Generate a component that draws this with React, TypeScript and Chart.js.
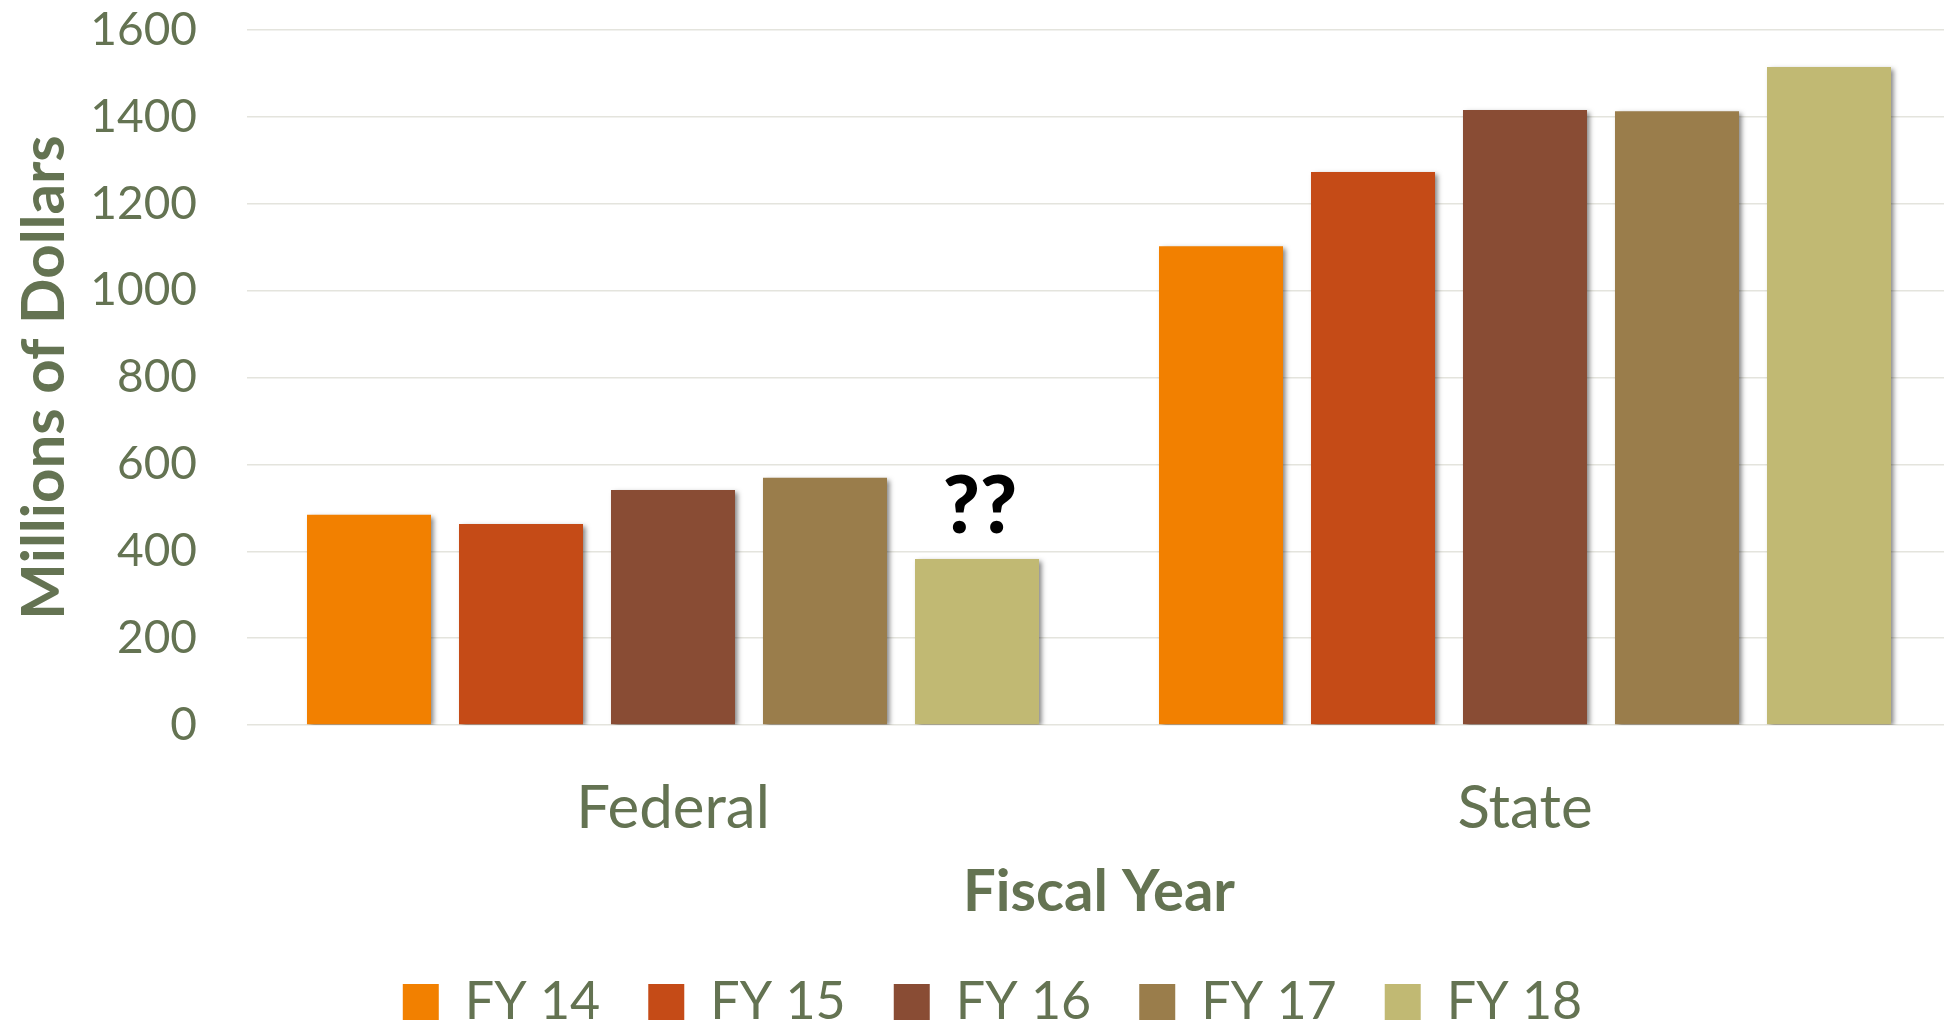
import React, { useEffect, useRef } from "react";
import { Chart, registerables } from "chart.js";

Chart.register(...registerables);

// ---- data ----
const categories = ["Federal", "State"];
const seriesLabels = ["FY 14", "FY 15", "FY 16", "FY 17", "FY 18"];
const fy14 = [484, 1102];
const fy15 = [463, 1273];
const fy16 = [541, 1416];
const fy17 = [569, 1413];
const fy18 = [382, 1515];
const seriesValues = [fy14, fy15, fy16, fy17, fy18];
const seriesColors = ["#F28000", "#C54B17", "#894C34", "#9A7D4B", "#C1B973"];
const yMin = 0;
const yMax = 1600;
const yStep = 200;
const yAxisTitle = "Millions of Dollars";
const xAxisTitle = "Fiscal Year";
const unknownMark = "??";
const unknownSeries = 4; // FY 18
const unknownCategory = 0; // Federal

const TEXT = "#647352";
const FONT = "Lato";

const barDecor = {
  id: "barDecor",
  beforeDatasetsDraw(chart: any) {
    const ctx = chart.ctx;
    ctx.save();
    ctx.shadowColor = "rgba(0,0,0,0.5)";
    ctx.shadowBlur = 5;
    ctx.shadowOffsetX = 3;
    ctx.shadowOffsetY = 2;
  },
  afterDatasetsDraw(chart: any) {
    const ctx = chart.ctx;
    ctx.restore();
    const meta = chart.getDatasetMeta(unknownSeries);
    const el = meta && meta.data[unknownCategory];
    if (!el) return;
    ctx.save();
    ctx.font = `900 80px ${FONT}`;
    ctx.fillStyle = "#000000";
    ctx.textAlign = "center";
    ctx.textBaseline = "alphabetic";
    ctx.fillText(unknownMark, el.x + 3, el.y - 26);
    ctx.restore();
  },
};

export default function App() {
  const ref = useRef<HTMLCanvasElement | null>(null);

  useEffect(() => {
    if (!ref.current) return;
    const chart = new Chart(ref.current, {
      type: "bar",
      data: {
        labels: categories,
        datasets: seriesLabels.map((label, i) => ({
          label,
          data: seriesValues[i],
          backgroundColor: seriesColors[i],
          borderWidth: 0,
          categoryPercentage: 0.892,
          barPercentage: 0.816,
        })),
      },
      options: {
        animation: false,
        responsive: false,
        maintainAspectRatio: false,
        devicePixelRatio: 1,
        layout: { padding: { left: 34, right: 9, top: 30, bottom: 2 } },
        plugins: {
          tooltip: { enabled: false },
          legend: {
            position: "bottom",
            labels: {
              boxWidth: 36,
              boxHeight: 36,
              padding: 48,
              color: TEXT,
              font: { family: FONT, size: 52 },
            },
          },
        },
        scales: {
          x: {
            type: "category",
            offset: true,
            grid: { display: false },
            border: { display: false },
            ticks: {
              color: TEXT,
              font: { family: FONT, size: 60 },
              padding: 40,
              maxRotation: 0,
              autoSkip: false,
            },
            title: {
              display: true,
              text: xAxisTitle,
              color: TEXT,
              font: { family: FONT, size: 58, weight: "bold" },
              padding: { top: 0, bottom: 1 },
            },
            afterFit: (s: any) => {
              s.height = 203;
            },
          },
          y: {
            min: yMin,
            max: yMax,
            grid: { color: "#E4E4DD", lineWidth: 1.5, drawTicks: false },
            border: { display: false },
            ticks: {
              stepSize: yStep,
              color: TEXT,
              font: { family: FONT, size: 46 },
              padding: 50,
              callback: (v: any) => String(v),
            },
            title: {
              display: true,
              text: yAxisTitle,
              color: TEXT,
              font: { family: FONT, size: 60, weight: "bold", lineHeight: 0.35 },
              padding: 0,
            },
            afterFit: (s: any) => {
              s.width = 213;
              s.paddingTop = 0;
              s.paddingBottom = 0;
            },
          },
        },
      },
      plugins: [barDecor],
    } as any);
    return () => chart.destroy();
  }, []);

  return (
    <div
      style={{
        position: "fixed",
        left: 0,
        top: 0,
        width: 1944,
        height: 1024,
        overflow: "hidden",
        background: "#ffffff",
      }}
    >
      <canvas
        ref={ref}
        width={1960}
        height={1040}
        style={{ display: "block", width: 1960, height: 1040 }}
      />
    </div>
  );
}
